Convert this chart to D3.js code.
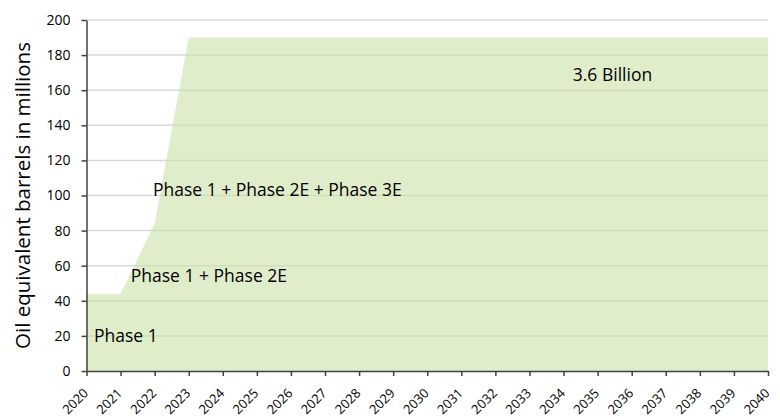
<!DOCTYPE html>
<html>
<head>
<meta charset="utf-8">
<script src="https://cdn.jsdelivr.net/npm/d3@7"></script>
<style>
  body { margin: 0; background: #fff; }
  text { font-family: "Open Sans", "Noto Sans", sans-serif; fill: #000; }
</style>
</head>
<body>
<div id="chart"></div>
<script>
'use strict';

// ---- data ----
var years   = d3.range(2020, 2041);
var volumes = [44, 44, 84, 190, 190, 190, 190, 190, 190, 190, 190,
               190, 190, 190, 190, 190, 190, 190, 190, 190, 190];
var yTicks  = [0, 20, 40, 60, 80, 100, 120, 140, 160, 180, 200];
var notes   = [
    {label: 'Phase 1',                         year: 2020.22, value: 20},
    {label: 'Phase 1 + Phase 2E',              year: 2021.3,  value: 54},
    {label: 'Phase 1 + Phase 2E + Phase 3E',   year: 2021.95, value: 103},
    {label: '3.6 Billion',                     year: 2034.27, value: 169}
];
var yTitle = 'Oil equivalent barrels in millions';

var margins = {top: 20, bottom: 48, left: 86.5, right: 12};
var W = 780, H = 419;
var cw = W - margins.left - margins.right;
var ch = H - margins.top - margins.bottom;

var svg = d3.select('#chart').append('svg')
    .attr('width', W)
    .attr('height', H);

var g = svg.append('g')
    .attr('transform', 'translate(' + margins.left + ',' + margins.top + ')');

var xScale = d3.scaleLinear().domain([2020, 2040]).range([0, cw]);
var yScale = d3.scaleLinear().domain([0, 200]).range([ch, 0]);

// gridlines
g.append('g').selectAll('line')
    .data(yTicks.filter(function(d){ return d > 0; }))
    .enter().append('line')
    .attr('x1', 0).attr('x2', cw)
    .attr('y1', function(d){ return yScale(d); })
    .attr('y2', function(d){ return yScale(d); })
    .attr('stroke', '#d9d9d9')
    .attr('stroke-width', 1.5);

// area
var area = d3.area()
    .x(function(d, i){ return xScale(years[i]); })
    .y0(yScale(0))
    .y1(function(d){ return yScale(d); });

g.append('path')
    .datum(volumes)
    .attr('d', area)
    .attr('fill', '#cbe1a8')
    .attr('fill-opacity', 0.6);

// axes
var yAxis = d3.axisLeft(yScale).tickValues(yTicks).tickSize(5).tickSizeOuter(0);
var xAxis = d3.axisBottom(xScale).tickValues(years).tickFormat(d3.format('d')).tickSize(5).tickSizeOuter(0);

var yg = g.append('g').call(yAxis);
yg.select('.domain').attr('stroke', '#404040').attr('stroke-width', 1.5);
yg.selectAll('.tick line').attr('stroke', '#404040').attr('stroke-width', 1.5);
yg.selectAll('.tick text').attr('font-size', 14).attr('x', -16);

var xg = g.append('g')
    .attr('transform', 'translate(0,' + ch + ')')
    .call(xAxis);
xg.select('.domain').attr('stroke', '#404040').attr('stroke-width', 1.5);
xg.selectAll('.tick line').attr('stroke', '#404040').attr('stroke-width', 1.5);
xg.selectAll('.tick text')
    .attr('font-size', 13)
    .attr('text-anchor', 'end')
    .attr('dy', 0)
    .attr('y', 0)
    .attr('transform', 'translate(2,23) rotate(-45)');

// annotations
g.append('g').selectAll('text')
    .data(notes)
    .enter().append('text')
    .attr('x', function(d){ return xScale(d.year); })
    .attr('y', function(d){ return yScale(d.value); })
    .attr('dy', '0.35em')
    .attr('font-size', 17.5)
    .text(function(d){ return d.label; });

// y title
svg.append('text')
    .attr('transform', 'translate(30,' + (margins.top + ch / 2) + ') rotate(-90)')
    .attr('text-anchor', 'middle')
    .attr('font-size', 20.5)
    .text(yTitle);
</script>
</body>
</html>
